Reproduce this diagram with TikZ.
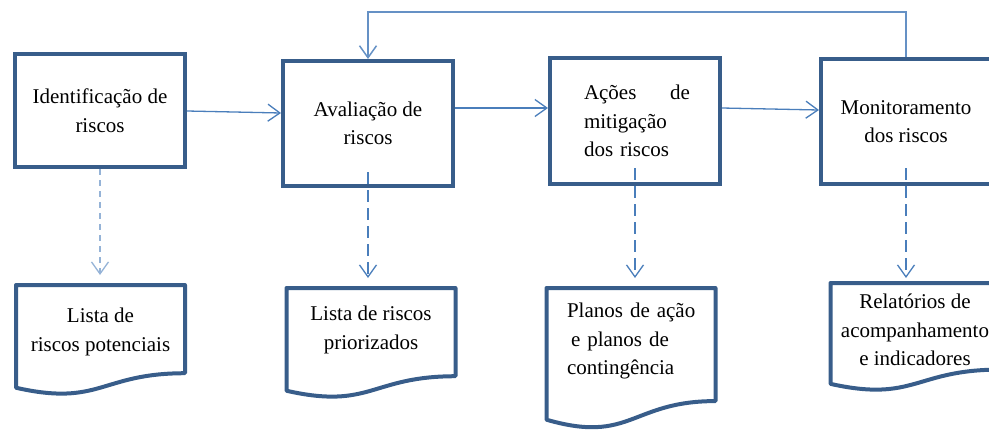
\documentclass[tikz,border=0pt]{standalone}
\usepackage{fontspec}
\setmainfont{Liberation Serif}
\usetikzlibrary{arrows.meta,calc}

\definecolor{boxblue}{HTML}{385D8A}
\definecolor{flowblue}{HTML}{4A7EBB}
\definecolor{lightblue}{HTML}{95B3D7}

\tikzset{
  stage/.style={draw=boxblue, line width=4pt, minimum width=170pt, align=center, inner sep=0pt},
  docbox/.style={inner xsep=0pt, inner ysep=#1, minimum width=169pt, anchor=north, align=center, outer sep=0pt},
  flow/.style={draw=flowblue, line width=1.3pt, -{Straight Barb[length=12pt,width=17pt]}},
  output/.style={flow, dash pattern=on 12pt off 6pt},
}

% document outline hung under a text node: #1 node, #2 height
\newcommand\docshape[2]{%
  \draw[boxblue, line width=4pt, line join=round]
    (#1.north west) -- (#1.north east) -- ++(0,{0.802*#2})
    .. controls ($(#1.north)+(0,{0.802*#2})$) and ($(#1.north)+(0,{1.1075*#2})$)
    .. ($(#1.north west)+(0,{0.934*#2})$) -- cycle;}

\begin{document}
\begin{tikzpicture}[x=1pt, y=-1pt, font=\fontsize{21}{28.5}\selectfont]
\useasboundingbox (0,0) rectangle (989,429);
\clip (0,0) rectangle (989,429);

% steps of the process
\node[stage, minimum height=113pt] (ident) at (100,110.5) {Identificação de\\riscos};
\node[stage, minimum height=125pt] (aval) at (368,123.5) {Avaliação de\\riscos};
\node[stage, minimum height=126pt, align=left, text width=110pt] (acoes) at (635,121)
  {\hbox to 110pt{\hspace*{4pt}Ações\hfill de}\\\hspace*{4pt}mitigação\\\hspace*{4pt}dos riscos};
\node[stage, minimum height=125pt] (monit) at (906,121.5) {Monitoramento\\dos riscos};

% what each step delivers
\node[docbox=23pt] (lista) at (100.5,285) {Lista de\\riscos potenciais};
\node[docbox=18pt] (prior) at (371,288) {Lista de riscos\\priorizados};
\node[docbox=15pt, align=left, text width=136pt] (planos) at (631,288)
  {\hspace*{4pt}Planos de ação\\\hspace*{8pt}e planos de\\\hspace*{4pt}contingência};
\node[docbox=11pt] (relat) at (915,283) {Relatórios de\\acompanhamento\\e indicadores};
\docshape{lista}{110}
\docshape{prior}{110}
\docshape{planos}{141}
\docshape{relat}{108}

% main flow and feedback loop
\draw[flow] ([yshift=-0.5pt]ident.east) -- ([yshift=10.5pt]aval.west);
\draw[flow] ([yshift=15.5pt]aval.east) -- ([yshift=13pt]acoes.west);
\draw[flow] ([yshift=13pt]acoes.east) -- ([yshift=11.5pt]monit.west);
\draw[flow, draw=flowblue!85, line width=1.5pt] (monit.north) -- ++(0,-45) -| (aval.north);

% outputs (dashed)
\draw[output, draw=lightblue, dash pattern=on 6pt off 5pt, shorten >=10pt] (ident.south) -- (ident.south |- lista.north);
\draw[output, shorten <=-16pt, shorten >=10pt] (aval.south) -- (aval.south |- prior.north);
\draw[output, shorten <=-18pt, shorten >=10pt] (acoes.south) -- (acoes.south |- planos.north);
\draw[output, shorten <=-18pt, shorten >=5pt] (monit.south) -- (monit.south |- relat.north);
\end{tikzpicture}
\end{document}
